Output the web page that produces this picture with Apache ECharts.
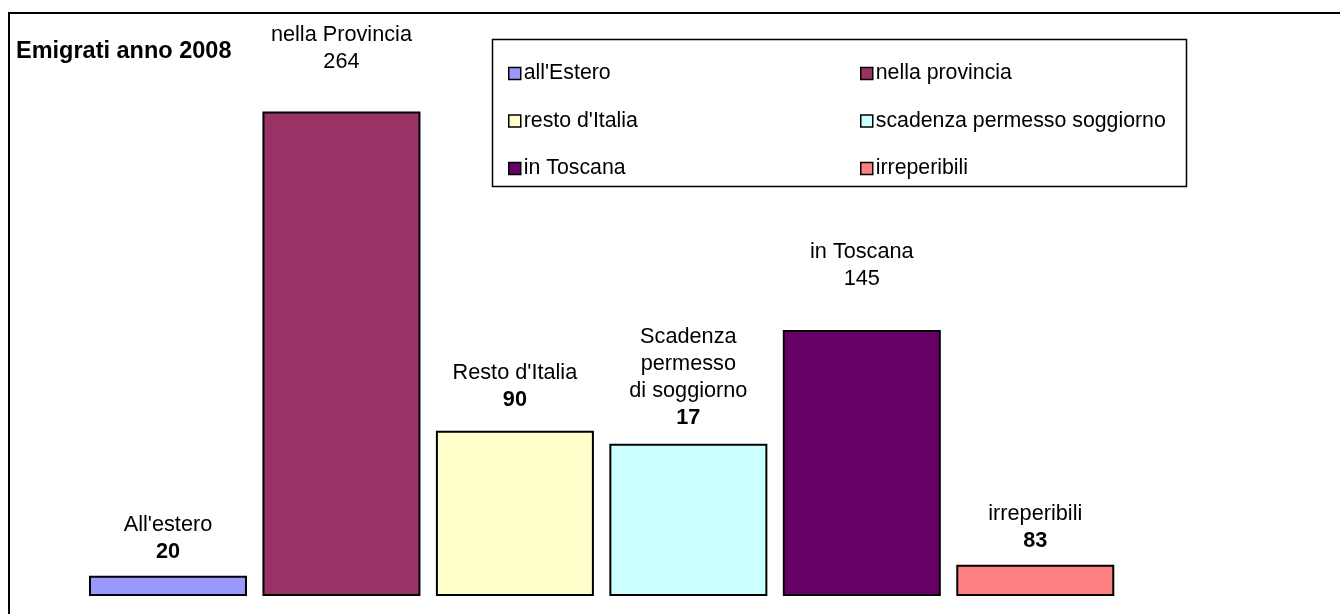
<!DOCTYPE html>
<html>
<head>
<meta charset="utf-8">
<script src="https://cdn.jsdelivr.net/npm/echarts@6/dist/echarts.min.js"></script>
<style>
html,body{margin:0;padding:0;background:#fff;}
#chart{width:1340px;height:614px;}
</style>
</head>
<body>
<div id="chart"></div>
<script>
// ---- data ----
const titleText = "Emigrati anno 2008";
const categories = ["All'estero", "nella Provincia", "Resto d'Italia", "Scadenza\npermesso\ndi soggiorno", "in Toscana", "irreperibili"];
const legendNames = ["all'Estero", "nella provincia", "resto d'Italia", "scadenza permesso soggiorno", "in Toscana", "irreperibili"];
const barValues = [11, 264, 90, 83, 145, 17];
const labelValues = [20, 264, 90, 17, 145, 83];

// ---- styles ----
const colors = ['#9999FF', '#993366', '#FFFFCC', '#CCFFFF', '#660066', '#FF8080'];
const boldValue = [true, false, true, true, false, true];
const labelDist = [10, 36, 17, 12, 37, 10];
const FONT = "'Liberation Sans', Arial, sans-serif";
const FS = 21.7;

const chart = echarts.init(document.getElementById('chart'));

const series = legendNames.map((nm, i) => ({
  type: 'bar',
  name: nm,
  stack: 'all',
  barWidth: 158,
  data: categories.map((c, j) => j === i ? barValues[i] : '-'),
  itemStyle: { color: colors[i], borderColor: '#000', borderWidth: 2 },
  emphasis: { disabled: true },
  label: {
    show: true,
    position: 'top',
    distance: labelDist[i],
    align: 'center',
    formatter: () => '{n|' + categories[i].split('\n').join('}\n{n|') + '}\n{' + (boldValue[i] ? 'b' : 'n') + '|' + labelValues[i] + '}',
    rich: {
      n: { fontFamily: FONT, fontSize: FS, lineHeight: 27, color: '#000', align: 'center' },
      b: { fontFamily: FONT, fontSize: FS, lineHeight: 27, color: '#000', fontWeight: 'bold', align: 'center' }
    }
  }
}));

const legendCommon = {
  orient: 'vertical',
  padding: 0,
  itemWidth: 12,
  itemHeight: 12,
  itemGap: 26.5,
  icon: 'rect',
  itemStyle: { borderColor: '#000', borderWidth: 1.5 },
  textStyle: { fontFamily: FONT, fontSize: 21.3, color: '#000', lineHeight: 20, padding: [0, 0, 0, -2] },
  selectedMode: false
};

chart.setOption({
  animation: false,
  backgroundColor: '#fff',
  title: {
    text: titleText,
    left: 11,
    top: 35,
    textStyle: { fontFamily: FONT, fontSize: 23.5, fontWeight: 'bold', color: '#000' }
  },
  legend: [
    Object.assign({}, legendCommon, { left: 508, top: 63, data: [legendNames[0], legendNames[2], legendNames[4]] }),
    Object.assign({}, legendCommon, { left: 860, top: 63, data: [legendNames[1], legendNames[3], legendNames[5]] })
  ],
  grid: { left: 81.25, right: 218, top: 45.5, bottom: 18 },
  xAxis: { type: 'category', data: categories, show: false },
  yAxis: { type: 'value', min: 0, max: 300, show: false },
  graphic: [
    { type: 'rect', shape: { x: 9, y: 13, width: 1400, height: 700 }, style: { fill: null, stroke: '#000', lineWidth: 2 }, silent: true },
    { type: 'rect', shape: { x: 492.5, y: 39.5, width: 694, height: 147 }, style: { fill: null, stroke: '#000', lineWidth: 1.5 }, silent: true, z: -1 }
  ],
  series: series
});
</script>
</body>
</html>
